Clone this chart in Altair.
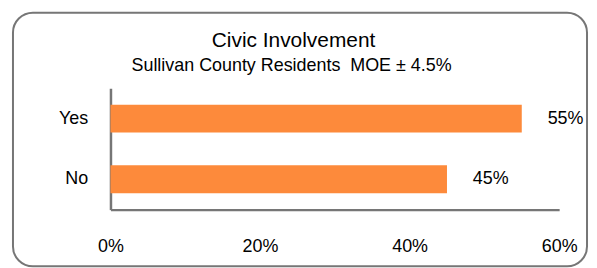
import altair as alt
import pandas as pd

categories = ["Yes", "No"]
values = [55, 45]
x_ticks = [0, 20, 40, 60]
title_text = "Civic Involvement"
subtitle_text = "Sullivan County Residents\u00a0\u00a0MOE \u00b1 4.5%"

df = pd.DataFrame({"answer": categories, "pct": values})
df["label"] = [f"{v}%" for v in values]

FONT = "Liberation Sans"
ORANGE = "#FD8A3B"
GREY = "#767676"

x_enc = alt.X(
    "pct:Q",
    scale=alt.Scale(domain=[0, 60], nice=False),
    axis=alt.Axis(
        values=x_ticks,
        labelExpr="datum.value + '%'",
        title=None,
        grid=False,
        ticks=False,
        domainColor=GREY,
        domainWidth=2.5,
        labelFont=FONT,
        labelFontSize=18,
        labelColor="#000000",
        labelPadding=28,
        labelFlush=False,
    ),
)
y_enc = alt.Y(
    "answer:N",
    sort=categories,
    scale=alt.Scale(paddingInner=0.54, paddingOuter=0.27),
    axis=alt.Axis(
        title=None,
        ticks=False,
        domainColor=GREY,
        domainWidth=2.5,
        labelFont=FONT,
        labelFontSize=18,
        labelColor="#000000",
        labelPadding=23,
    ),
)

bars = alt.Chart(df).mark_bar(color=ORANGE, size=28).encode(x=x_enc, y=y_enc)

labels = alt.Chart(df).mark_text(
    align="left", baseline="middle", dx=26, font=FONT, fontSize=18, color="#000000"
).encode(x="pct:Q", y=alt.Y("answer:N", sort=categories), text="label:N")

frame = alt.Chart(df).mark_rect(
    fill=None, stroke=GREY, strokeWidth=2, cornerRadius=20, clip=False
).encode(
    x=alt.value(-98), x2=alt.value(479), y=alt.value(-76), y2=alt.value(179)
).transform_filter(alt.datum.answer == "Yes")

title = alt.Chart(df).mark_text(
    align="center", baseline="alphabetic", font=FONT, fontSize=21, color="#000000"
).encode(
    x=alt.value(184), y=alt.value(-41), text=alt.value(title_text)
).transform_filter(alt.datum.answer == "Yes")

subtitle = alt.Chart(df).mark_text(
    align="center", baseline="alphabetic", font=FONT, fontSize=18, color="#000000"
).encode(
    x=alt.value(182), y=alt.value(-17), text=alt.value(subtitle_text)
).transform_filter(alt.datum.answer == "Yes")

chart = alt.layer(frame, bars, labels, title, subtitle).properties(
    width=451,
    height=122,
    autosize=alt.AutoSizeParams(type="none"),
    padding={"left": 103, "top": 80, "right": 30, "bottom": 58},
).configure_view(stroke=None)

chart.save("out.html", embed_options={"renderer": "svg", "actions": False})
